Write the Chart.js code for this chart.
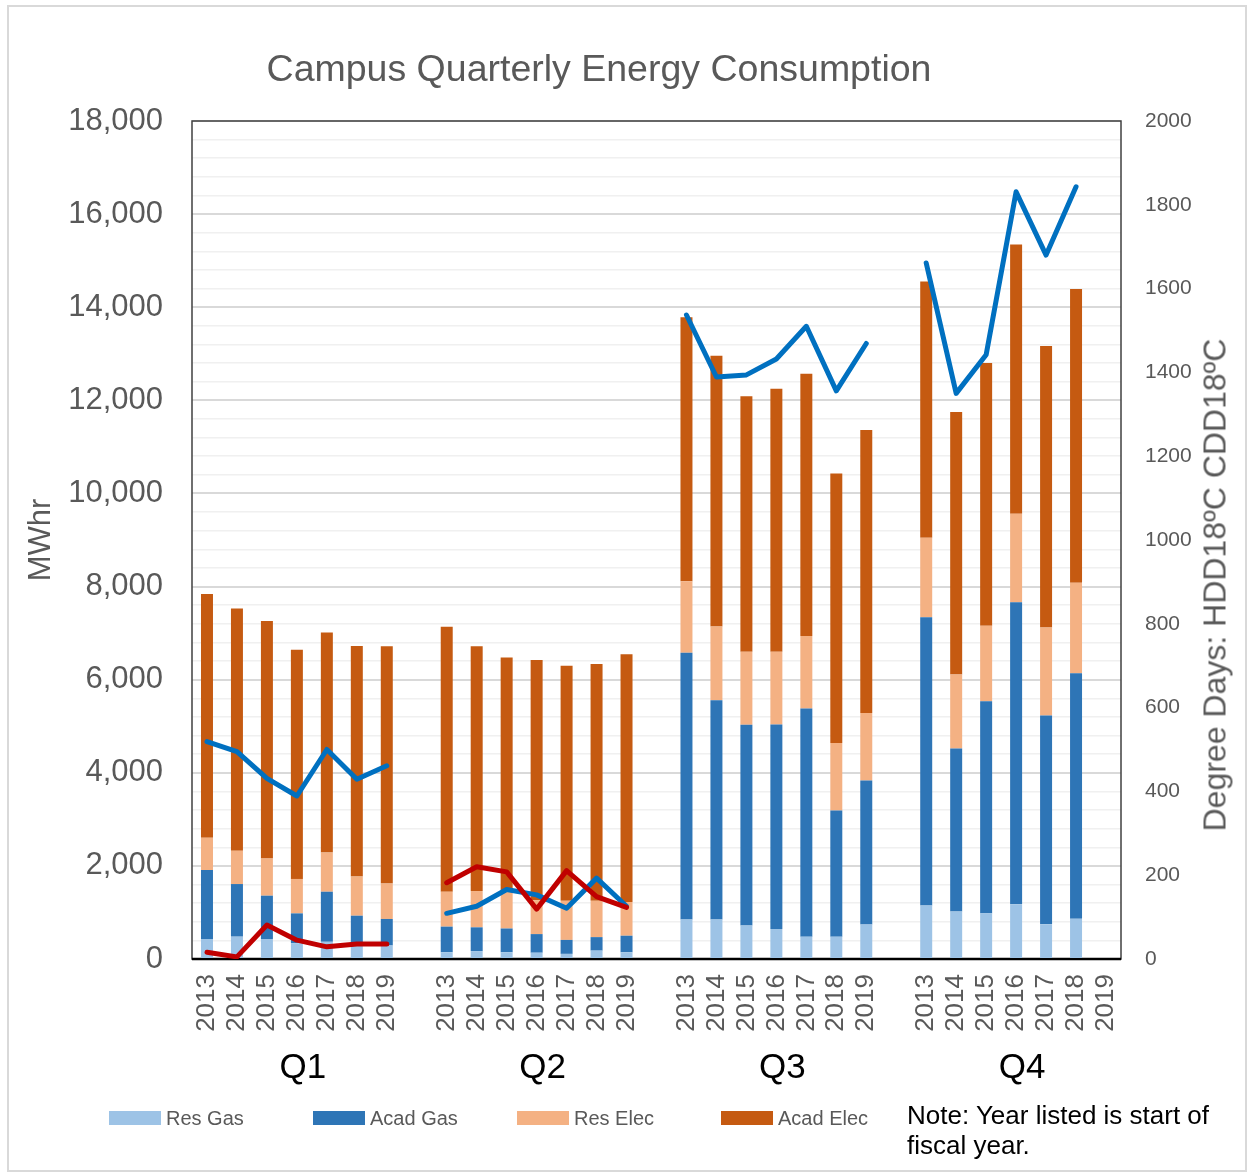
<!DOCTYPE html>
<html>
<head>
<meta charset="utf-8">
<script src="https://cdn.jsdelivr.net/npm/chart.js@4"></script>
<style>
  body{margin:0;background:#fff;font-family:"Liberation Sans",Arial,sans-serif;}
  #wrap{position:relative;width:1252px;height:1174px;}
  #frame{position:absolute;left:7px;top:5px;width:1236px;height:1163px;border:2px solid #d9d9d9;}
  #c{position:absolute;left:0;top:0;}
  #title{position:absolute;left:0;top:46px;width:1198px;text-align:center;font-size:37.5px;line-height:44px;color:#595959;}
  #rtitle{position:absolute;left:1215px;top:585px;transform:translate(-50%,-50%) rotate(-90deg);white-space:nowrap;font-size:32px;color:#595959;}
  #legend{position:absolute;left:109px;top:1106px;display:flex;}
  .item{width:204px;display:flex;align-items:center;font-size:20px;color:#595959;height:24px;}
  .box{width:52px;height:14px;margin-right:5px;}
  #note{position:absolute;left:907px;top:1100px;font-size:26px;line-height:30px;color:#000;}
</style>
</head>
<body>
<div id="wrap">
  <div id="frame"></div>
  <canvas id="c" width="1252" height="1174"></canvas>
  <div id="title">Campus Quarterly Energy Consumption</div>
  <div id="rtitle">Degree Days: HDD18ºC CDD18ºC</div>
  <div id="legend"></div>
  <div id="note">Note: Year listed is start of<br>fiscal year.</div>
</div>
<script>
// years and quarters
var years=['2013','2014','2015','2016','2017','2018','2019'];
var quarters=['Q1','Q2','Q3','Q4'];

// MWhr, Q1..Q4 each 7 years (2013-2019)
var resGas=[430,480,430,340,370,300,290, 145,170,145,135,110,180,145, 850,850,720,645,480,480,740, 1150,1020,985,1175,745,865,null];
var acadGas=[1480,1130,930,640,1075,630,570, 550,510,510,400,300,290,355, 5730,4710,4310,4390,4900,2710,3095, 6190,3500,4550,6490,4485,5275,null];
var resElec=[695,715,800,740,840,840,760, 750,780,800,730,840,780,725, 1535,1580,1570,1565,1560,1450,1450, 1710,1590,1625,1900,1890,1940,null];
var acadElec=[5235,5205,5100,4920,4730,4955,5100, 5690,5260,5020,5160,5050,5085,5320, 5670,5820,5490,5650,5630,5790,6080, 5505,5640,5640,5780,6045,6310,null];

// degree days
var hdd=[519,495,431,389,500,429,461, 109,126,166,153,121,193,126, 1537,1389,1394,1432,1510,1356,1469, 1661,1350,1442,1831,1680,1843,null];
var cdd=[16,5,81,45,29,36,36, 182,220,208,119,211,149,123, null,null,null,null,null,null,null, null,null,null,null,null,null,null];

// one empty category between quarters
var labels=[], qlabels=[];
quarters.forEach(function(q,i){
    years.forEach(function(y,j){
        labels.push(y);
        qlabels.push(j==3 ? q : '');
    });
    if(i<quarters.length-1){labels.push('');qlabels.push('');}
});
function spread(arr){
    var out=[];
    for(var i=0;i<arr.length;i++){
        out.push(arr[i]);
        if(i%7==6 && i<arr.length-1) out.push(null);
    }
    return out;
}

var gray='#595959';
var barSets=[
    {label:'Res Gas',data:spread(resGas),backgroundColor:'#9dc3e6'},
    {label:'Acad Gas',data:spread(acadGas),backgroundColor:'#2e75b6'},
    {label:'Res Elec',data:spread(resElec),backgroundColor:'#f4b183'},
    {label:'Acad Elec',data:spread(acadElec),backgroundColor:'#c55a11'}
];
barSets.forEach(function(d){
    d.type='bar';d.yAxisID='y';d.order=2;d.categoryPercentage=1;d.barPercentage=0.4;
});

var frame={
    id:'frame',
    beforeDatasetsDraw:function(chart){
        var a=chart.chartArea, ctx=chart.ctx;
        ctx.save();
        ctx.strokeStyle='#404040';ctx.lineWidth=1.5;
        ctx.strokeRect(a.left,a.top,a.right-a.left,a.bottom-a.top);
        ctx.strokeStyle='#000';ctx.lineWidth=2.5;
        ctx.beginPath();ctx.moveTo(a.left,a.bottom);ctx.lineTo(a.right,a.bottom);ctx.stroke();
        ctx.restore();
    }
};

var chart=new Chart(document.getElementById('c'),{
    data:{
        labels:labels,
        datasets:barSets.concat([
            {type:'line',label:'HDD18',data:spread(hdd),yAxisID:'y1',borderColor:'#0070c0',borderWidth:5,pointRadius:0,tension:0,order:1,spanGaps:false,borderCapStyle:'round',borderJoinStyle:'round'},
            {type:'line',label:'CDD18',data:spread(cdd),yAxisID:'y1',borderColor:'#c00000',borderWidth:5,pointRadius:0,tension:0,order:0,spanGaps:false,borderCapStyle:'round',borderJoinStyle:'round'}
        ])
    },
    options:{
        responsive:false,
        animation:false,
        layout:{padding:{left:7,right:7,top:121,bottom:75}},
        plugins:{legend:{display:false},tooltip:{enabled:false}},
        scales:{
            x:{
                type:'category',stacked:true,position:'bottom',weight:0,
                grid:{display:false,drawTicks:false},border:{display:false},
                ticks:{autoSkip:false,minRotation:90,maxRotation:90,padding:15,color:gray,font:{family:'Liberation Sans',size:26}},
                afterFit:function(s){s.height=80;}
            },
            x2:{
                type:'category',labels:qlabels,position:'bottom',weight:1,offset:true,
                grid:{display:false,drawTicks:false},border:{display:false},
                ticks:{autoSkip:false,maxRotation:0,padding:8,labelOffset:6,color:'#000',font:{family:'Liberation Sans',size:35}},
                afterFit:function(s){s.height=60;}
            },
            y:{
                stacked:true,min:0,max:18000,position:'left',
                grid:{drawTicks:false,color:function(c){return c.tick.value%2000==0?'#d9d9d9':'#f0f0f0';},lineWidth:function(c){return c.tick.value%2000==0?2:1.5;}},
                border:{display:false},
                ticks:{stepSize:400,autoSkip:false,padding:29,color:gray,font:{family:'Liberation Sans',size:31},
                    callback:function(v){return v%2000==0?v.toLocaleString('en-US'):'';}},
                title:{display:true,text:'MWhr',color:gray,font:{family:'Liberation Sans',size:31},padding:{top:16,bottom:0}},
                afterFit:function(s){s.width=185;}
            },
            y1:{
                min:0,max:2000,position:'right',
                grid:{display:false,drawTicks:false},border:{display:false},
                ticks:{stepSize:200,padding:24,color:gray,font:{family:'Liberation Sans',size:21},callback:function(v){return String(v);}},
                afterFit:function(s){s.width=124;}
            }
        }
    },
    plugins:[frame]
});

// legend for the bar series
var lg=document.getElementById('legend');
barSets.forEach(function(d){
    var it=document.createElement('div');it.className='item';
    var b=document.createElement('span');b.className='box';b.style.background=d.backgroundColor;
    var t=document.createElement('span');t.textContent=d.label;
    it.appendChild(b);it.appendChild(t);lg.appendChild(it);
});
</script>
</body>
</html>
